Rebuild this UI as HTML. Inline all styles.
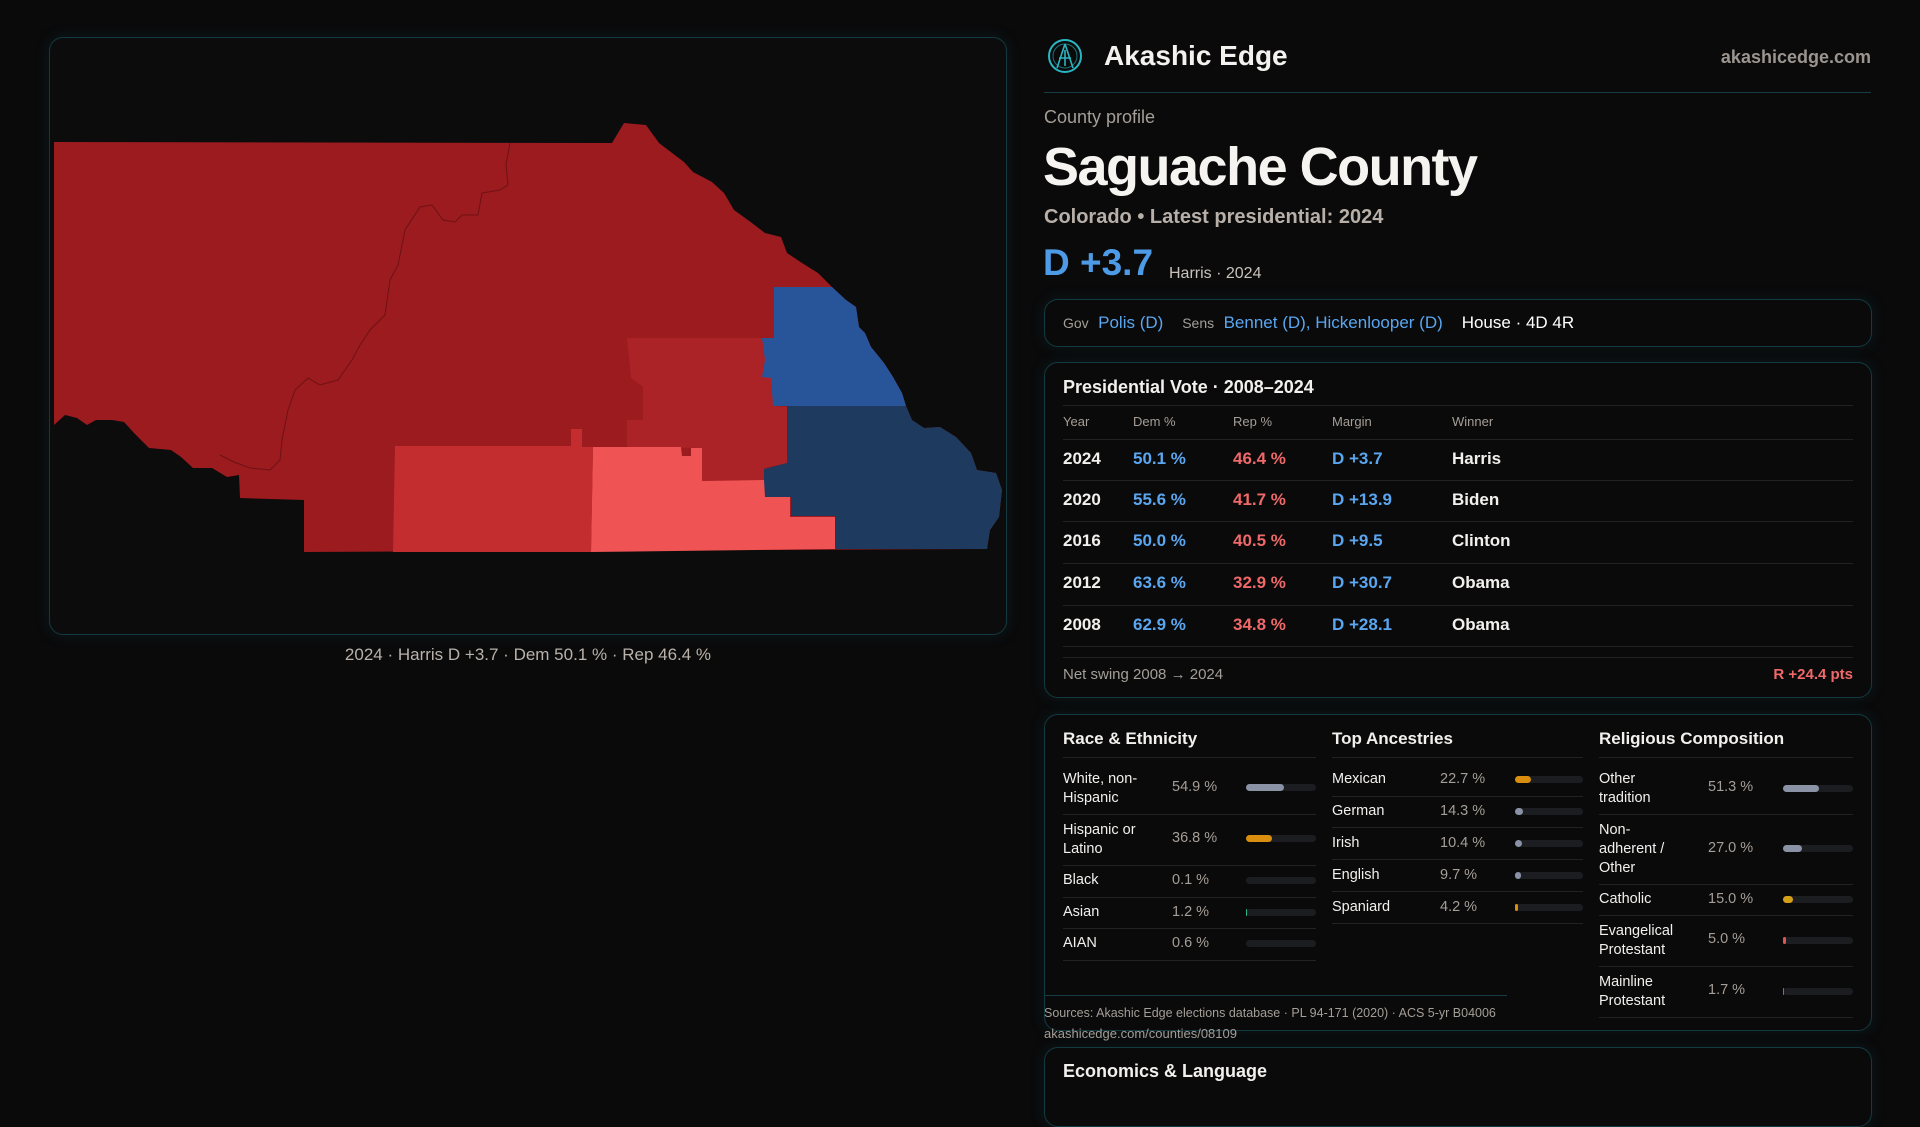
<!DOCTYPE html>
<html><head><meta charset="utf-8"><style>
*{margin:0;padding:0;box-sizing:border-box}
body{width:1920px;height:1080px;background:#0a0a0b;font-family:"Liberation Sans",sans-serif;color:#f2f0ed;position:relative;overflow:hidden}
.a{position:absolute;white-space:nowrap}
.box{position:absolute;border:1.5px solid #133a40;border-radius:14px;background:#0a0a0b;box-shadow:0 0 14px rgba(20,70,80,0.25)}
.g{color:#a59e97}
.b{color:#5aa6f0}
.r{color:#f06868}
.hl{position:absolute;height:1px;background:#1f2326}
.tr{position:absolute;height:7px;border-radius:4px;background:#1c1d21}
.tr i{display:block;height:7px;border-radius:4px}
</style></head><body>
<div class="box" style="left:49px;top:37px;width:958px;height:598px;background:#0c0c0d"></div>
<svg class="a" style="left:0;top:0" width="1920" height="1080" viewBox="0 0 1920 1080">
<polygon fill="#9b1b1e" points="54,142 612,143 624,123 646,125 659,143 684,162 693,172 712,182 724,193 734,210 752,223 765,233 781,237 787,253 802,263 818,273 832,287 846,300 856,307 859,327 865,333 871,347 884,363 893,377 902,393 906,406 912,420 924,428 940,427 956,437 971,453 977,470 996,473 1002,490 999,517 990,530 987,549 304,552 304,500 240,498 239,475 227,477 212,468 193,468 181,457 171,450 149,448 134,433 124,422 112,420 96,420 87,425 77,418 65,415 54,425"/>
<polygon fill="#ab2227" points="627,338 774,338 773,406 787,407 787,463 765,468 764,480 702,481 702,448 627,447 627,420 643,420 643,387 631,378"/>
<polygon fill="#28559a" points="774,287 832,287 846,300 856,307 859,327 865,333 871,347 884,363 893,377 902,393 906,406 773,406 771,378 762,377 765,360 762,338 774,338"/>
<polygon fill="#1e3a5f" points="787,406 906,406 912,420 924,428 940,427 956,437 971,453 977,470 996,473 1002,490 999,517 990,530 987,549 835,549 835,516 791,516 791,497 764,497 764,469 787,463"/>
<polygon fill="#ef5353" points="593,447 681,447 682,456 691,456 691,448 702,448 702,481 764,480 765,497 790,497 790,517 835,517 835,549 591,552"/>
<polygon fill="#c42d30" points="395,446 571,446 571,429 582,429 582,447 593,447 591,552 393,552"/>
<polyline fill="none" stroke="#6e1215" stroke-width="1" points="510,143 506,165 508,185 500,190 482,193 478,215 462,215 455,222 443,220 432,205 420,207 405,230 398,265 390,280 385,315 370,330 360,345 352,360 338,380 320,385 308,378 295,390 288,410 282,440 280,460 270,470 250,468 234,462 220,455"/>
</svg>
<div class="a" style="left:0;width:1056px;top:645px;text-align:center;font-size:17px;color:#b9b2ab">2024 · Harris D +3.7 · Dem 50.1 % · Rep 46.4 %</div>

<svg class="a" style="left:1047px;top:38px" width="36" height="36" viewBox="0 0 36 36"><circle cx="18" cy="18" r="16" fill="none" stroke="#2bb5c2" stroke-width="2"/><circle cx="18" cy="18" r="12" fill="none" stroke="#2bb5c2" stroke-width="1" opacity=".6"/><path d="M18 6 L10 30 M18 6 L26 30 M12 20 L24 20 M18 12 L18 28" stroke="#2bb5c2" stroke-width="1.6" fill="none"/></svg>
<div class="a" style="left:1104px;top:40px;font-size:28px;font-weight:bold;color:#f4f2ef">Akashic Edge</div>
<div class="a" style="right:49px;top:47px;font-size:18px;font-weight:bold;color:#9c958f">akashicedge.com</div>
<div class="hl" style="left:1044px;width:827px;top:92px;background:#163e44"></div>
<div class="a g" style="left:1044px;top:107px;font-size:18px">County profile</div>
<div class="a" style="left:1043px;top:136px;font-size:54px;font-weight:bold;letter-spacing:-1.5px;color:#f6f4f1">Saguache County</div>
<div class="a" style="left:1044px;top:206px;font-size:20px;font-weight:bold;color:#b8b0a8">Colorado • Latest presidential: 2024</div>
<div class="a" style="left:1043px;top:242px;font-size:37px;font-weight:bold;color:#4d9be6">D +3.7</div>
<div class="a" style="left:1169px;top:265px;font-size:16px;color:#c9c2bb">Harris · 2024</div>

<div class="box" style="left:1044px;top:299px;width:828px;height:48px"></div>
<div class="a" style="left:1063px;top:313px;font-size:17px"><span class="g" style="font-size:14px">Gov</span>&nbsp; <span class="b">Polis (D)</span>&nbsp;&nbsp;&nbsp; <span class="g" style="font-size:14px">Sens</span>&nbsp; <span class="b">Bennet (D), Hickenlooper (D)</span>&nbsp;&nbsp;&nbsp; <span style="color:#fff">House · 4D 4R</span></div>

<div class="box" style="left:1044px;top:362px;width:828px;height:336px"></div>
<div class="a" style="left:1063px;top:377px;font-size:18px;font-weight:bold">Presidential Vote · 2008–2024</div>
<div class="hl" style="left:1063px;width:790px;top:405px"></div>
<div class="a g" style="left:1063px;top:414px;font-size:13px">Year</div>
<div class="a g" style="left:1133px;top:414px;font-size:13px">Dem %</div>
<div class="a g" style="left:1233px;top:414px;font-size:13px">Rep %</div>
<div class="a g" style="left:1332px;top:414px;font-size:13px">Margin</div>
<div class="a g" style="left:1452px;top:414px;font-size:13px">Winner</div>
<div class="hl" style="left:1063px;width:790px;top:439px"></div>
<div class="hl" style="left:1063px;width:790px;top:480px"></div>
<div class="hl" style="left:1063px;width:790px;top:521px"></div>
<div class="hl" style="left:1063px;width:790px;top:563px"></div>
<div class="hl" style="left:1063px;width:790px;top:605px"></div>
<div class="hl" style="left:1063px;width:790px;top:646px"></div>
<div class="hl" style="left:1063px;width:790px;top:657px"></div>
<div style="font-size:17px;font-weight:bold">
<div class="a" style="left:1063px;top:449px">2024</div><div class="a b" style="left:1133px;top:449px">50.1 %</div><div class="a r" style="left:1233px;top:449px">46.4 %</div><div class="a b" style="left:1332px;top:449px">D +3.7</div><div class="a" style="left:1452px;top:449px">Harris</div>
<div class="a" style="left:1063px;top:490px">2020</div><div class="a b" style="left:1133px;top:490px">55.6 %</div><div class="a r" style="left:1233px;top:490px">41.7 %</div><div class="a b" style="left:1332px;top:490px">D +13.9</div><div class="a" style="left:1452px;top:490px">Biden</div>
<div class="a" style="left:1063px;top:531px">2016</div><div class="a b" style="left:1133px;top:531px">50.0 %</div><div class="a r" style="left:1233px;top:531px">40.5 %</div><div class="a b" style="left:1332px;top:531px">D +9.5</div><div class="a" style="left:1452px;top:531px">Clinton</div>
<div class="a" style="left:1063px;top:573px">2012</div><div class="a b" style="left:1133px;top:573px">63.6 %</div><div class="a r" style="left:1233px;top:573px">32.9 %</div><div class="a b" style="left:1332px;top:573px">D +30.7</div><div class="a" style="left:1452px;top:573px">Obama</div>
<div class="a" style="left:1063px;top:615px">2008</div><div class="a b" style="left:1133px;top:615px">62.9 %</div><div class="a r" style="left:1233px;top:615px">34.8 %</div><div class="a b" style="left:1332px;top:615px">D +28.1</div><div class="a" style="left:1452px;top:615px">Obama</div>
</div>
<div class="a g" style="left:1063px;top:666px;font-size:15px">Net swing 2008 → 2024</div>
<div class="a r" style="right:67px;top:666px;font-size:15px;font-weight:bold">R +24.4 pts</div>

<div class="box" style="left:1044px;top:714px;width:828px;height:317px"></div>
<div style="font-size:14.5px">
<div class="a" style="left:1063px;top:729px;font-size:17px;font-weight:bold">Race &amp; Ethnicity</div>
<div class="a" style="left:1332px;top:729px;font-size:17px;font-weight:bold">Top Ancestries</div>
<div class="a" style="left:1599px;top:729px;font-size:17px;font-weight:bold">Religious Composition</div>
<div class="hl" style="left:1063px;width:253px;top:757px"></div>
<div class="hl" style="left:1332px;width:251px;top:757px"></div>
<div class="hl" style="left:1599px;width:254px;top:757px"></div>
<div class="a" style="left:1063px;top:770px;line-height:19px">White, non-<br>Hispanic</div><div class="a g" style="left:1172px;top:779px">54.9 %</div><div class="tr" style="left:1246px;top:784px;width:70px"><i style="width:38px;background:#8a93a6"></i></div>
<div class="hl" style="left:1063px;width:253px;top:814px"></div>
<div class="a" style="left:1063px;top:821px;line-height:19px">Hispanic or<br>Latino</div><div class="a g" style="left:1172px;top:830px">36.8 %</div><div class="tr" style="left:1246px;top:835px;width:70px"><i style="width:26px;background:#d98e0f"></i></div>
<div class="hl" style="left:1063px;width:253px;top:865px"></div>
<div class="a" style="left:1063px;top:872px">Black</div><div class="a g" style="left:1172px;top:872px">0.1 %</div><div class="tr" style="left:1246px;top:877px;width:70px"></div>
<div class="hl" style="left:1063px;width:253px;top:897px"></div>
<div class="a" style="left:1063px;top:904px">Asian</div><div class="a g" style="left:1172px;top:904px">1.2 %</div><div class="tr" style="left:1246px;top:909px;width:70px"><i style="width:1px;background:#2bb58a"></i></div>
<div class="hl" style="left:1063px;width:253px;top:928px"></div>
<div class="a" style="left:1063px;top:935px">AIAN</div><div class="a g" style="left:1172px;top:935px">0.6 %</div><div class="tr" style="left:1246px;top:940px;width:70px"></div>
<div class="hl" style="left:1063px;width:253px;top:960px"></div>
<div class="a" style="left:1332px;top:771px">Mexican</div><div class="a g" style="left:1440px;top:771px">22.7 %</div><div class="tr" style="left:1515px;top:776px;width:68px"><i style="width:16px;background:#d98e0f"></i></div>
<div class="hl" style="left:1332px;width:251px;top:796px"></div>
<div class="a" style="left:1332px;top:803px">German</div><div class="a g" style="left:1440px;top:803px">14.3 %</div><div class="tr" style="left:1515px;top:808px;width:68px"><i style="width:8px;background:#8a93a6"></i></div>
<div class="hl" style="left:1332px;width:251px;top:827px"></div>
<div class="a" style="left:1332px;top:835px">Irish</div><div class="a g" style="left:1440px;top:835px">10.4 %</div><div class="tr" style="left:1515px;top:840px;width:68px"><i style="width:7px;background:#8a93a6"></i></div>
<div class="hl" style="left:1332px;width:251px;top:859px"></div>
<div class="a" style="left:1332px;top:867px">English</div><div class="a g" style="left:1440px;top:867px">9.7 %</div><div class="tr" style="left:1515px;top:872px;width:68px"><i style="width:6px;background:#8a93a6"></i></div>
<div class="hl" style="left:1332px;width:251px;top:891px"></div>
<div class="a" style="left:1332px;top:899px">Spaniard</div><div class="a g" style="left:1440px;top:899px">4.2 %</div><div class="tr" style="left:1515px;top:904px;width:68px"><i style="width:3px;background:#d98e0f"></i></div>
<div class="hl" style="left:1332px;width:251px;top:923px"></div>
<div class="a" style="left:1599px;top:770px;line-height:19px">Other<br>tradition</div><div class="a g" style="left:1708px;top:779px">51.3 %</div><div class="tr" style="left:1783px;top:785px;width:70px"><i style="width:36px;background:#8a93a6"></i></div>
<div class="hl" style="left:1599px;width:254px;top:814px"></div>
<div class="a" style="left:1599px;top:821px;line-height:19px">Non-<br>adherent /<br>Other</div><div class="a g" style="left:1708px;top:840px">27.0 %</div><div class="tr" style="left:1783px;top:845px;width:70px"><i style="width:19px;background:#8a93a6"></i></div>
<div class="hl" style="left:1599px;width:254px;top:884px"></div>
<div class="a" style="left:1599px;top:891px">Catholic</div><div class="a g" style="left:1708px;top:891px">15.0 %</div><div class="tr" style="left:1783px;top:896px;width:70px"><i style="width:10px;background:#d4a017"></i></div>
<div class="hl" style="left:1599px;width:254px;top:915px"></div>
<div class="a" style="left:1599px;top:922px;line-height:19px">Evangelical<br>Protestant</div><div class="a g" style="left:1708px;top:931px">5.0 %</div><div class="tr" style="left:1783px;top:937px;width:70px"><i style="width:3px;background:#e05555"></i></div>
<div class="hl" style="left:1599px;width:254px;top:966px"></div>
<div class="a" style="left:1599px;top:973px;line-height:19px">Mainline<br>Protestant</div><div class="a g" style="left:1708px;top:982px">1.7 %</div><div class="tr" style="left:1783px;top:988px;width:70px"><i style="width:1px;background:#4a7bd0"></i></div>
<div class="hl" style="left:1599px;width:254px;top:1017px"></div>
</div>
<div class="hl" style="left:1044px;width:463px;top:995px;background:#163e44"></div>
<div class="a g" style="left:1044px;top:1006px;font-size:12.5px">Sources: Akashic Edge elections database · PL 94-171 (2020) · ACS 5-yr B04006</div>
<div class="a g" style="left:1044px;top:1026px;font-size:13px">akashicedge.com/counties/08109</div>
<div class="box" style="left:1044px;top:1047px;width:828px;height:80px"></div>
<div class="a" style="left:1063px;top:1061px;font-size:18px;font-weight:bold">Economics &amp; Language</div>
</body></html>
